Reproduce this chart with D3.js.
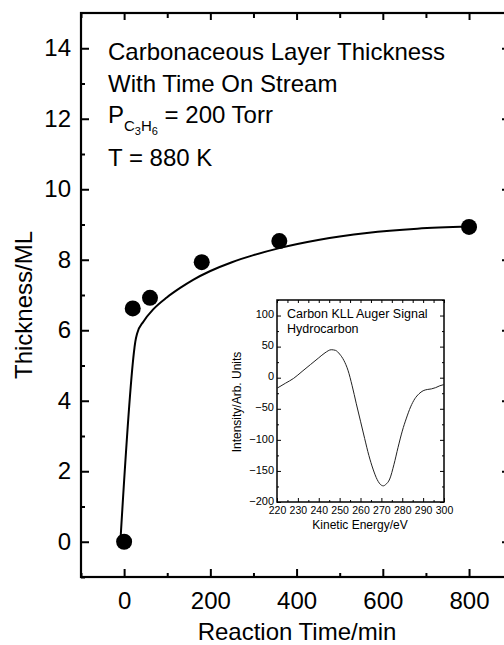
<!DOCTYPE html>
<html><head><meta charset="utf-8">
<script src="https://cdn.jsdelivr.net/npm/d3@7"></script>
<style>
body{margin:0;background:#fff;}
svg{display:block;font-family:"Liberation Sans",Arial,Helvetica,sans-serif;}
</style></head>
<body><svg id="c" width="504" height="645"></svg>
<script>
// Main chart data
const timeMin = [0, 20, 60, 180, 360, 800];
const thicknessML = [0, 6.62, 6.92, 7.93, 8.53, 8.93];
// Fitted curve
const fitTime = [-8, 24, 26, 30, 45, 68, 99, 130, 160, 200, 250, 300, 360, 450, 563, 680, 800];
const fitThick = [0.14, 5.5, 5.68, 5.9, 6.25, 6.6, 6.93, 7.2, 7.43, 7.68, 7.93, 8.13, 8.33, 8.56, 8.76, 8.88, 8.94];
const xMajor = [0, 200, 400, 600, 800];
const xMinor = [-100, 100, 300, 500, 700];
const yMajor = [0, 2, 4, 6, 8, 10, 12, 14];
const yMinor = [-1, 1, 3, 5, 7, 9, 11, 13];
// Inset Auger spectrum
const energyEV = [220, 224, 228, 232, 236, 240, 243, 246, 248, 250, 252, 254, 256, 258, 260, 262, 264, 266, 268, 270, 271, 272, 274, 276, 278, 280, 282, 284, 286, 288, 290, 292, 294, 296, 298, 300];
const intensity = [-17, -9, -1, 10, 21, 32, 40, 45, 44, 38, 28, 12, -13, -42, -70, -98, -125, -147, -164, -173, -174, -172, -163, -140, -112, -86, -65, -47, -34, -26, -21, -19, -18, -16, -13, -11];
const inXMajor = [220, 230, 240, 250, 260, 270, 280, 290, 300];
const inXMinor = [225, 235, 245, 255, 265, 275, 285, 295];
const inYMajor = [-200, -150, -100, -50, 0, 50, 100];
const inYMinor = [-175, -125, -75, -25, 25, 75, 125];

const svg = d3.select("#c");
const L = 81, R = 510, T = 13, B = 577;
const x = d3.scaleLinear().domain([-100, 895]).range([L, R]);
const y = d3.scaleLinear().domain([-1, 15]).range([B, T]);
const FS = 24;

function styleAxis(g, fs){
  g.select(".domain").remove();
  g.selectAll("line").attr("stroke","#000").attr("stroke-width",2);
  g.selectAll("text").attr("font-size",fs).attr("fill","#000").style("font-family",'"Liberation Sans",Arial,sans-serif');
}
// bottom
svg.append("g").attr("transform",`translate(0,${B})`)
  .call(d3.axisBottom(x).tickValues(xMajor).tickSize(-8).tickPadding(15).tickFormat(d3.format("d")))
  .call(g=>styleAxis(g,FS));
svg.append("g").attr("transform",`translate(0,${B})`)
  .call(d3.axisBottom(x).tickValues(xMinor).tickSize(-4).tickFormat(""))
  .call(g=>styleAxis(g,FS));
// top
svg.append("g").attr("transform",`translate(0,${T})`)
  .call(d3.axisTop(x).tickValues(xMajor).tickSize(-7).tickFormat(""))
  .call(g=>styleAxis(g,FS));
svg.append("g").attr("transform",`translate(0,${T})`)
  .call(d3.axisTop(x).tickValues(xMinor).tickSize(-5).tickFormat(""))
  .call(g=>styleAxis(g,FS));
// left
svg.append("g").attr("transform",`translate(${L},0)`)
  .call(d3.axisLeft(y).tickValues(yMajor).tickSize(-8).tickPadding(10).tickFormat(d3.format("d")))
  .call(g=>styleAxis(g,FS));
svg.append("g").attr("transform",`translate(${L},0)`)
  .call(d3.axisLeft(y).tickValues(yMinor).tickSize(-4).tickFormat(""))
  .call(g=>styleAxis(g,FS));
// right
svg.append("g").attr("transform",`translate(${R},0)`)
  .call(d3.axisRight(y).tickValues(yMajor).tickSize(-8).tickFormat(""))
  .call(g=>styleAxis(g,FS));
svg.append("g").attr("transform",`translate(${R},0)`)
  .call(d3.axisRight(y).tickValues(yMinor).tickSize(-5).tickFormat(""))
  .call(g=>styleAxis(g,FS));
// frame
svg.append("rect").attr("x",L).attr("y",T).attr("width",R-L).attr("height",B-T)
  .attr("fill","none").attr("stroke","#000").attr("stroke-width",2.2);

// axis titles
svg.append("text").attr("x",297).attr("y",640).attr("text-anchor","middle")
  .attr("font-size",FS).text("Reaction Time/min");
svg.append("text").attr("transform","translate(32,305) rotate(-90)").attr("text-anchor","middle")
  .attr("font-size",FS).text("Thickness/ML");

// annotation text
const ann = svg.append("g").attr("font-size",FS);
ann.append("text").attr("x",108).attr("y",60).text("Carbonaceous Layer Thickness");
ann.append("text").attr("x",108).attr("y",92).text("With Time On Stream");
const p = ann.append("text").attr("x",108).attr("y",123);
p.append("tspan").text("P");
p.append("tspan").attr("dy",8).attr("font-size",15).text("C");
p.append("tspan").attr("dy",4).attr("font-size",11).text("3");
p.append("tspan").attr("dy",-4).attr("font-size",15).text("H");
p.append("tspan").attr("dy",4).attr("font-size",11).text("6");
p.append("tspan").attr("dy",-12).attr("font-size",FS).text(" = 200 Torr");
ann.append("text").attr("x",108).attr("y",166).text("T = 880 K");

// fit curve
const fit = fitTime.map((t,i)=>[t,fitThick[i]]);
svg.append("path").datum(fit)
  .attr("d", d3.line().x(d=>x(d[0])).y(d=>y(d[1])).curve(d3.curveMonotoneX))
  .attr("fill","none").attr("stroke","#000").attr("stroke-width",2);
// points
svg.append("g").selectAll("circle").data(timeMin.map((t,i)=>[t,thicknessML[i]])).join("circle")
  .attr("cx",d=>x(d[0])).attr("cy",d=>y(d[1])).attr("r",8).attr("fill","#000");

// ---- inset ----
const iL = 277, iR = 444, iT = 300, iB = 502;
const ix = d3.scaleLinear().domain([220, 300]).range([iL, iR]);
const iy = d3.scaleLinear().domain([-200, 125]).range([iB, iT]);
function styleIn(g, fs){
  g.select(".domain").remove();
  g.selectAll("line").attr("stroke","#000").attr("stroke-width",1);
  g.selectAll("text").attr("font-size",fs).attr("fill","#000");
}
svg.append("g").attr("transform",`translate(0,${iB})`)
  .call(d3.axisBottom(ix).tickValues(inXMajor).tickSize(-4).tickPadding(5).tickFormat(d3.format("d"))).call(g=>styleIn(g,10.5));
svg.append("g").attr("transform",`translate(0,${iB})`)
  .call(d3.axisBottom(ix).tickValues(inXMinor).tickSize(-2).tickFormat("")).call(g=>styleIn(g,10.5));
svg.append("g").attr("transform",`translate(0,${iT})`)
  .call(d3.axisTop(ix).tickValues(inXMajor.concat(inXMinor)).tickSize(-3).tickFormat("")).call(g=>styleIn(g,11));
svg.append("g").attr("transform",`translate(${iL},0)`)
  .call(d3.axisLeft(iy).tickValues(inYMajor).tickSize(-4).tickPadding(3).tickFormat(d3.format("d"))).call(g=>styleIn(g,11))
  .call(g=>g.selectAll("text").attr("dy","0.2em"));
svg.append("g").attr("transform",`translate(${iL},0)`)
  .call(d3.axisLeft(iy).tickValues(inYMinor).tickSize(-2).tickFormat("")).call(g=>styleIn(g,11));
svg.append("g").attr("transform",`translate(${iR},0)`)
  .call(d3.axisRight(iy).tickValues(inYMajor).tickSize(-4).tickFormat("")).call(g=>styleIn(g,11));
svg.append("g").attr("transform",`translate(${iR},0)`)
  .call(d3.axisRight(iy).tickValues(inYMinor).tickSize(-2).tickFormat("")).call(g=>styleIn(g,11));
svg.append("rect").attr("x",iL).attr("y",iT).attr("width",iR-iL).attr("height",iB-iT)
  .attr("fill","none").attr("stroke","#000").attr("stroke-width",1.5);

const spec = energyEV.map((e,i)=>[e,intensity[i]]);
svg.append("path").datum(spec)
  .attr("d", d3.line().x(d=>ix(d[0])).y(d=>iy(d[1])).curve(d3.curveMonotoneX))
  .attr("fill","none").attr("stroke","#222").attr("stroke-width",1);

svg.append("text").attr("x",287).attr("y",318).attr("font-size",12.5).text("Carbon KLL Auger Signal");
svg.append("text").attr("x",287).attr("y",333).attr("font-size",12.5).text("Hydrocarbon");
svg.append("text").attr("x",360).attr("y",529).attr("text-anchor","middle").attr("font-size",12).text("Kinetic Energy/eV");
svg.append("text").attr("transform","translate(241,402) rotate(-90)").attr("text-anchor","middle")
  .attr("font-size",12).text("Intensity/Arb. Units");
</script></body></html>
